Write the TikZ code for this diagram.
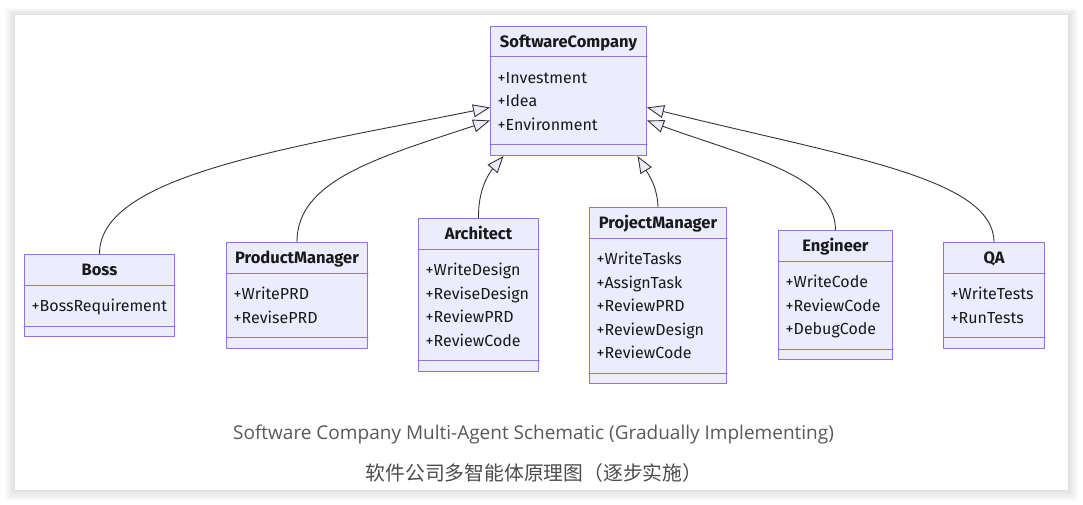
\documentclass[tikz,border=0pt]{standalone}
\usepackage{fontspec}
\setmainfont{Fira Sans}
\newfontfamily\capfont{Open Sans}
\newfontfamily\cjk{Noto Sans CJK SC}
\usetikzlibrary{arrows.meta,calc}
\definecolor{classfill}{HTML}{ECECFF}
\definecolor{classborder}{HTML}{9370DB}
\definecolor{edgecol}{HTML}{333333}

% one UML class: name, left, top, width, number of items, title, items
\newcommand{\umlclass}[7]{%
  \pgfmathsetmacro\boxh{82+23.5*(#5-1)}
  \node[classbox, minimum width=#4pt, minimum height=\boxh pt, anchor=north west] (#1) at (#2,#3) {};
  \draw[classline] ([yshift=-31pt]#1.north west) -- ([yshift=-31pt]#1.north east);
  \draw[classline] ([yshift=11pt]#1.south west) -- ([yshift=11pt]#1.south east);
  \node[classtitle] (#1-title) at ([yshift=-17.5pt]#1.north) {#6};
  \foreach \t [count=\i] in {#7}
    \node[classitem] (#1-\i) at ([xshift=7.5pt,yshift={-53.5pt-23.5pt*(\i-1)}]#1.north west) {+\t};
}

\begin{document}
\begin{tikzpicture}[x=1pt,y=-1pt,line cap=round,line join=round,
  classbox/.style={draw=classborder, fill=classfill, line width=1pt, inner sep=0pt},
  classline/.style={draw=classborder, line width=1pt},
  classtitle/.style={font=\fontsize{16.5}{19}\selectfont\bfseries, text=black!90, inner sep=0pt, text height=11.5pt, text depth=3.5pt},
  classitem/.style={anchor=west, font=\fontsize{16}{19}\selectfont, text=black!90, inner sep=0pt, text height=11.5pt, text depth=3.5pt},
  inherit/.style={draw=edgecol, line width=0.9pt, -{Triangle[length=17pt,width=13pt,fill=classfill,line width=0.9pt]}},
  captext/.style={font=\capfont\fontsize{19}{23}\selectfont, text=black!65},
  capzh/.style={font=\cjk\fontsize{19.8}{23}\selectfont, text=black!70}]
\useasboundingbox (0,0) rectangle (1083,505);
% panel with soft shadow
\foreach \s in {1,...,10}
  \fill[black, opacity=0.012] (15-\s,15-\s*0.7) rectangle (1068+\s,490+\s*1.1);
\fill[white] (15,15) rectangle (1068,490);

% classes
\umlclass{sc}{490}{26}{156}{3}{SoftwareCompany}{Investment,Idea,Environment}
\umlclass{boss}{24}{254}{150}{1}{Boss}{BossRequirement}
\umlclass{pm}{226}{242}{141}{2}{ProductManager}{WritePRD,RevisePRD}
\umlclass{arch}{418}{218}{120}{4}{Architect}{WriteDesign,ReviseDesign,ReviewPRD,ReviewCode}
\umlclass{proj}{589}{207}{137}{5}{ProjectManager}{WriteTasks,AssignTask,ReviewPRD,ReviewDesign,ReviewCode}
\umlclass{eng}{778}{230}{114}{3}{Engineer}{WriteCode,ReviewCode,DebugCode}
\umlclass{qa}{943}{242}{101}{2}{QA}{WriteTests,RunTests}

% inheritance
\draw[inherit] (boss.north) .. controls (99,175) and (290,148) .. ([yshift=-16.5pt]sc.west);
\draw[inherit] (pm.north) .. controls (296.5,180) and (380,157) .. ([yshift=-29.5pt]sc.west);
\draw[inherit] (arch.north) .. controls (478,188) and (490,172) .. ([xshift=-65pt]sc.south);
\draw[inherit] (proj.north) .. controls (657.5,186) and (647,172) .. ([xshift=69pt]sc.south);
\draw[inherit] (eng.north) .. controls (835,175) and (747,157) .. ([yshift=-29.5pt]sc.east);
\draw[inherit] (qa.north) .. controls (993.5,178) and (847,157) .. ([yshift=-16.5pt]sc.east);

% captions
\node[captext] (capen) at (533.5,435) {Software Company Multi-Agent Schematic (Gradually Implementing)};
\node[capzh] (capzh) at (534,473) {软件公司多智能体原理图（逐步实施）};
\end{tikzpicture}
\end{document}
